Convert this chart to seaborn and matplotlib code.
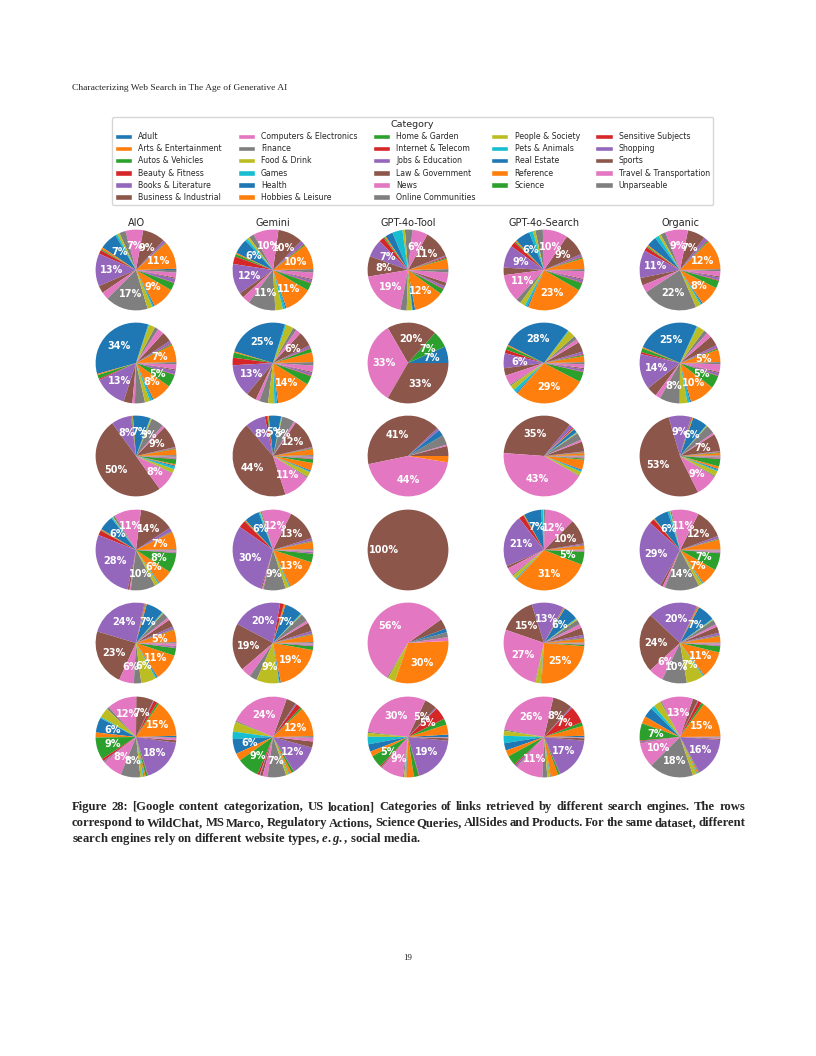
import matplotlib
matplotlib.use("Agg")
import matplotlib.pyplot as plt
from matplotlib.patches import Patch
import seaborn as sns

# ----------------------------------------------------------------------------------------------
# Data (share of links per category, in %)
# ----------------------------------------------------------------------------------------------
categories = [
    "Adult", "Arts & Entertainment", "Autos & Vehicles", "Beauty & Fitness",
    "Books & Literature", "Business & Industrial", "Computers & Electronics",
    "Finance", "Food & Drink", "Games", "Health", "Hobbies & Leisure",
    "Home & Garden", "Internet & Telecom", "Jobs & Education", "Law & Government",
    "News", "Online Communities", "People & Society", "Pets & Animals",
    "Real Estate", "Reference", "Science", "Sensitive Subjects", "Shopping",
    "Sports", "Travel & Transportation", "Unparseable",
]
engines = ["AIO", "Gemini", "GPT-4o-Tool", "GPT-4o-Search", "Organic"]
datasets = ["WildChat", "MS Marco", "Regulatory Actions", "Science Queries", "AllSides", "Products"]

# one list per engine (AIO, Gemini, GPT-4o-Tool, GPT-4o-Search, Organic)
wildchat = [
    [0.5, 11, 0.3, 0.2, 1, 9, 7, 2.5, 1, 0.8, 7, 0.8, 0.5, 1.5, 13, 3, 3, 17, 2, 0.5, 0.5, 9, 3, 0.2, 1.5, 0.5, 2, 1],
    [0.3, 10, 0.5, 0.3, 1.5, 10, 10, 2, 1, 1, 6, 0.5, 1, 3, 12, 2, 3, 11, 3, 1, 0.5, 11, 3, 0.3, 1, 0.5, 2.5, 1],
    [0.3, 4, 0.5, 0.5, 0.5, 11, 6, 3, 1, 4, 3, 0.5, 0.5, 2, 7, 8, 19, 2.5, 2, 0.3, 1, 12, 2, 0.3, 1, 1.5, 4, 1],
    [0.3, 4.3, 0.5, 0.3, 1, 9, 10, 3, 1, 1.5, 6, 0.5, 0.5, 2, 9, 3, 11, 2, 2, 1, 0.5, 23, 3, 0.3, 1, 0.5, 3, 0.5],
    [0.3, 12, 0.5, 0.3, 1.5, 7, 9, 2, 1, 1.5, 4, 0.5, 0.5, 1.5, 11, 3, 3, 22, 2, 0.5, 0.5, 8, 3, 0.3, 1, 0.5, 2, 0.5],
]
ms_marco = [
    [0.3, 7, 0.5, 0.3, 1, 4, 2.5, 1.5, 2.5, 0.3, 34, 0.5, 1.5, 0.5, 13, 3.5, 1, 4, 2, 1, 0.5, 8, 5, 0.2, 1.5, 0.5, 2, 0.5],
    [0.3, 4, 1.5, 0.3, 1, 6, 2, 1.5, 3, 0.5, 25, 0.5, 2, 3, 13, 4, 1.5, 3.5, 2.5, 1, 0.5, 14, 3.5, 0.3, 1, 0.5, 2.5, 1],
    [0, 0, 0, 0, 0, 0, 0, 0, 0, 0, 1, 0, 1, 0, 0, 3, 5, 0, 0, 0, 0, 0, 0, 0, 0, 5, 0, 0],
    [0.3, 2.5, 0.5, 0.3, 1, 4, 1.5, 1.5, 3, 0.3, 28, 0.5, 1.5, 1.5, 6, 3, 4, 0.5, 2, 1.5, 0.5, 29, 4, 0.2, 1, 0.5, 1.5, 0.5],
    [0.3, 5, 0.5, 0.3, 1, 4, 2, 1.5, 3, 0.3, 25, 0.5, 1.5, 0.8, 14, 4, 2, 8, 3, 1, 0.5, 10, 5, 0.2, 1, 0.5, 3, 0.5],
]
regulatory = [
    [0.3, 2.5, 0.3, 0.2, 0.3, 9, 1, 5, 0.5, 0.2, 7, 0.3, 0.3, 0.2, 8, 50, 8, 0.3, 1.5, 1, 0.5, 0.5, 2, 0.2, 0.3, 0.2, 0.3, 0.3],
    [0.3, 2.5, 0.3, 0.2, 0.3, 12, 0.8, 5, 0.3, 0.2, 5, 0.3, 0.3, 1, 8, 44, 11, 0.5, 2, 0.3, 0.5, 3, 1.5, 0.2, 0.3, 0.2, 0.3, 0.3],
    [0, 0, 0, 0, 0, 4, 0.5, 4, 0, 0, 2.5, 0, 0, 0, 1, 41, 44, 0, 0, 0, 0, 2.5, 0, 0, 0, 0, 0, 0],
    [0.2, 1, 0.2, 0.2, 0.2, 4, 0.8, 3, 0.3, 0.2, 1.5, 0.2, 0.2, 0.5, 1.5, 35, 43, 0.3, 1.5, 0.5, 0.5, 4, 0.5, 0.1, 0.2, 0.2, 0.3, 0.2],
    [0.2, 1, 0.3, 0.2, 0.3, 7, 0.8, 3.5, 0.3, 0.2, 6, 0.3, 0.3, 0.3, 9, 53, 9, 0.5, 2, 0.5, 0.5, 1, 3, 0.2, 0.3, 0.2, 0.3, 0.2],
]
science = [
    [0.3, 7, 0.3, 0.2, 1.5, 14, 11, 0.8, 0.3, 0.5, 6, 0.3, 0.3, 2, 28, 0.8, 0.5, 10, 1.5, 0.3, 0.3, 6, 8, 0.1, 0.3, 0.2, 0.5, 0.2],
    [0.3, 3, 0.3, 0.2, 1, 13, 12, 0.5, 0.3, 0.5, 6, 0.3, 0.3, 3, 30, 0.5, 0.5, 9, 1.5, 0.3, 0.3, 13, 3.5, 0.1, 0.5, 0.2, 0.5, 0.2],
    [0, 0, 0, 0, 0, 0, 0, 0, 0, 0, 0, 0, 0, 0, 0, 100, 0, 0, 0, 0, 0, 0, 0, 0, 0, 0, 0, 0],
    [0.2, 1.5, 0.2, 0.2, 0.5, 10, 12, 0.5, 0.3, 0.8, 7, 0.2, 0.2, 2, 21, 1, 3, 0.5, 1.5, 0.3, 0.3, 31, 5.2, 0.1, 0.2, 0.1, 0.2, 0.1],
    [0.2, 4, 0.3, 0.2, 1, 12, 11, 0.5, 0.3, 0.8, 6, 0.2, 0.2, 2, 29, 1, 1, 14, 1.5, 0.3, 0.3, 7, 7, 0.1, 0.3, 0.2, 0.5, 0.2],
]
allsides = [
    [0.3, 5, 0.3, 0.2, 1, 3, 1, 2.5, 0.3, 0.3, 7, 0.5, 0.2, 0.2, 24, 23, 6, 3, 6, 0.5, 0.5, 11, 3, 0.1, 0.5, 0.3, 1, 0.2],
    [0.3, 3, 0.3, 0.2, 1, 3.5, 1, 3, 0.3, 0.3, 7, 0.5, 0.2, 1.5, 20, 19, 4, 3, 9, 0.3, 0.5, 19, 1.5, 0.1, 0.3, 0.2, 0.5, 0.2],
    [0, 0.8, 0, 0, 0, 0, 1.5, 2, 0, 0, 1.5, 0, 0, 0, 0, 4, 56, 0.5, 3, 0, 0, 30, 0, 0, 0, 0, 0, 0],
    [0.2, 1.5, 0.3, 0.3, 1, 3, 1.5, 2, 0.5, 0.3, 6, 0.3, 0.2, 0.2, 13, 15, 27, 0.3, 2, 0.2, 0.2, 25, 0.6, 0.1, 0.2, 0.1, 0.2, 0.1],
    [0.2, 2.5, 0.3, 0.2, 1, 2.5, 1, 2, 0.3, 0.3, 7, 0.5, 0.2, 0.2, 20, 24, 6, 10, 7, 0.3, 0.3, 11, 2.5, 0.1, 0.3, 0.2, 0.5, 0.2],
]
products = [
    [0.5, 15, 0.8, 1.5, 0.3, 7, 12, 1, 4, 0.5, 6, 2, 9, 1, 0.5, 0.3, 8, 8, 1, 0.3, 0.3, 0.5, 0.8, 0.2, 18, 1, 1, 0.3],
    [0.3, 12, 0.8, 2, 0.5, 4, 24, 0.5, 4, 3, 6, 3, 9, 0.8, 0.3, 1, 2, 7.5, 1, 0.2, 0.2, 1, 1, 0.1, 12, 2.5, 1.5, 0.3],
    [1, 4, 2.5, 5, 0.5, 5, 30, 0.5, 1.5, 3, 3, 2, 5, 0.5, 0.3, 0.3, 9, 0.5, 0.5, 0.2, 0.2, 3, 2, 0.2, 19, 1, 0.3, 0.2],
    [0.5, 4, 1.5, 7, 0.5, 8, 26, 0.5, 2, 3, 3, 2.5, 4, 0.5, 0.8, 0.3, 11, 2, 1, 0.2, 0.2, 3, 0.8, 0.2, 17, 1, 0.3, 0.2],
    [0.2, 15, 1, 1.5, 0.3, 2, 13, 0.5, 3, 1.5, 4, 3, 7, 0.3, 0.5, 0.3, 10, 18, 1.5, 0.2, 0.2, 0.5, 0.3, 0.1, 16, 0.5, 0.5, 0.2],
]
rows = [wildchat, ms_marco, regulatory, science, allsides, products]

caption_lines = [
    "Figure 28: [Google content categorization, US location] Categories of links retrieved by different search engines. The rows",
    "correspond to WildChat, MS Marco, Regulatory Actions, Science Queries, AllSides and Products. For the same dataset, different",
    "search engines rely on different website types, $e.g.$, social media.",
]

# ----------------------------------------------------------------------------------------------
# Style
# ----------------------------------------------------------------------------------------------
sns.set_style("white")
plt.rcParams["font.family"] = ["DejaVu Sans"]
plt.rcParams["mathtext.fontset"] = "custom"
plt.rcParams["mathtext.it"] = "Liberation Serif:italic:bold"
plt.rcParams["mathtext.rm"] = "Liberation Serif:bold"

tab = sns.color_palette("tab10", 10)
palette = [tab[i % 10] for i in range(len(categories))]

W, H = 816, 1056
fig = plt.figure(figsize=(W / 100, H / 100), dpi=100)

# page layout in pixels
col_x = [136, 273, 408, 544, 680]
row_y = [270, 363, 456, 550, 643, 737]
box = 101


def pct_label(p):
    return f"{p:.0f}%" if p >= 4.5 else ""


for r, data in enumerate(rows):
    for c, vals in enumerate(data):
        ax = fig.add_axes([(col_x[c] - box / 2) / W, 1 - (row_y[r] + box / 2) / H, box / W, box / H])
        ax.pie(vals, colors=palette, autopct=pct_label,
               wedgeprops=dict(linewidth=0),
               textprops=dict(color="white", fontweight="bold", fontsize=7))

for c, name in enumerate(engines):
    fig.text(col_x[c] / W, 1 - 226 / H, name, ha="center", va="baseline", fontsize=7)

# legend
handles = [Patch(facecolor=palette[i], label=cat) for i, cat in enumerate(categories)]
fig.legend(handles=handles, ncol=5, loc="center", bbox_to_anchor=(412.5 / W, 1 - 161 / H),
           title="Category", fontsize=5.6, title_fontsize=6.8, labelspacing=0.4,
           handlelength=2.2, frameon=True, edgecolor="0.8", borderpad=0.4)

# page header and page number
fig.text(72 / W, 1 - 90 / H, "Characterizing Web Search in The Age of Generative AI",
         fontfamily="Liberation Serif", fontsize=6.8, va="baseline")
fig.text(408 / W, 1 - 960 / H, "19", fontfamily="Liberation Serif", fontsize=6.5, ha="center", va="baseline")

# caption, justified like the paper (last line left aligned)
cap_left, cap_right = 72, 745
cap_style = dict(fontfamily="Liberation Serif", fontweight="bold", fontsize=9.1, va="baseline", ha="left")
renderer = fig.canvas.get_renderer()
for i, line in enumerate(caption_lines):
    y = 1 - (810 + 16 * i) / H
    if i == len(caption_lines) - 1:
        fig.text(cap_left / W, y, line, **cap_style)
        continue
    words = line.split(" ")
    texts = [fig.text(0, y, w, **cap_style) for w in words]
    widths = [t.get_window_extent(renderer).width for t in texts]
    gap = (cap_right - cap_left - sum(widths)) / (len(words) - 1)
    x = cap_left
    for t, w in zip(texts, widths):
        t.set_x(x / W)
        x += w + gap

fig.savefig("out.png", dpi=100)
plt.close(fig)
